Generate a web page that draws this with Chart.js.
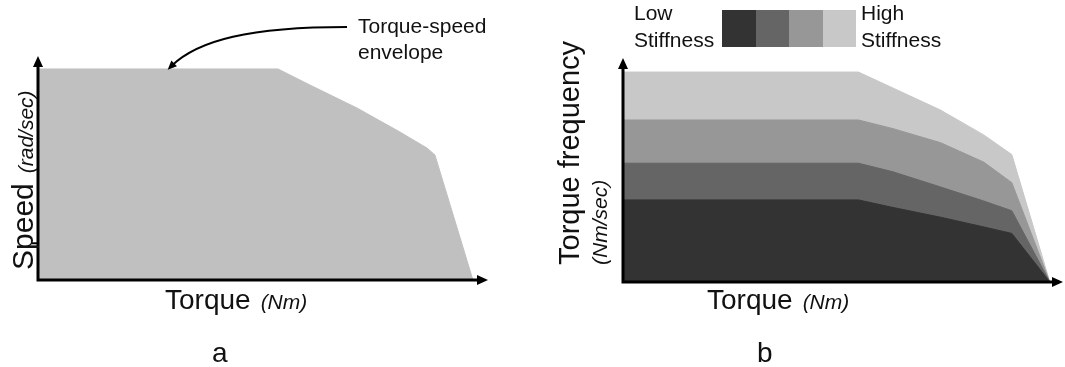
<!DOCTYPE html>
<html>
<head>
<meta charset="utf-8">
<script src="https://cdn.jsdelivr.net/npm/chart.js@4.4.1/dist/chart.umd.min.js"></script>
<style>
    body {
        margin: 0;
        background: #fff;
        width: 1065px;
        height: 367px;
        overflow: hidden;
        position: relative;
        font-family: Arial, "Liberation Sans", sans-serif;
        color: #111;
    }
    canvas { position: absolute; top: 0; }
    #chartA { left: 0; }
    #chartB { left: 540px; }
    .lbl { position: absolute; white-space: nowrap; line-height: 1; }
    .it { font-style: italic; font-size: 21px; }
    .rot { transform-origin: left top; transform: rotate(-90deg); }
    #stiffBar { position: absolute; left: 722px; top: 10px; width: 134px; height: 37px; display: flex; }
    #stiffBar div { flex: 1; }
</style>
</head>
<body>

<canvas id="chartA" width="500" height="300"></canvas>
<canvas id="chartB" width="525" height="300"></canvas>

<!-- panel a labels -->
<div class="lbl" style="left:358px; top:13px; font-size:21px; line-height:26px;">Torque-speed<br>envelope</div>
<div class="lbl rot" style="left:8px; top:270px; font-size:30px;">Speed<span class="it" style="margin-left:10px;">(rad/sec)</span></div>
<div class="lbl" style="left:165px; top:286px; font-size:28px;">Torque<span class="it" style="margin-left:10px;">(Nm)</span></div>
<div class="lbl" style="left:212px; top:339px; font-size:28px;">a</div>

<!-- panel b labels -->
<div class="lbl" style="left:634px; top:-1px; font-size:21px; line-height:27px;">Low<br>Stiffness</div>
<div id="stiffBar"></div>
<div class="lbl" style="left:861px; top:-1px; font-size:21px; line-height:27px;">High<br>Stiffness</div>
<div class="lbl rot" style="left:555px; top:265px; font-size:29px;">Torque frequency</div>
<div class="lbl rot it" style="left:589px; top:265px;">(Nm/sec)</div>
<div class="lbl" style="left:707px; top:286px; font-size:28px;">Torque<span class="it" style="margin-left:10px;">(Nm)</span></div>
<div class="lbl" style="left:757px; top:339px; font-size:28px;">b</div>

<script>
// panel a: torque-speed envelope
var torqueA = [0, 54.3, 61.5, 72.2, 81.9, 88, 89.8, 98.4];
var speedA = [97.7, 97.7, 90.3, 79.6, 68.5, 61.1, 57.9, 0];
var envelopeColor = '#c0c0c0';

// panel b: torque frequency per stiffness level, low to high
var torqueB = [0, 54.5, 62.5, 73.5, 83.5, 90, 98.8];
var stiffLevels = ['Low', 'Medium-low', 'Medium-high', 'High'];
var freqLow = [38, 38, 34.5, 30, 25.5, 22.5, 0];
var freqMedLow = [55, 55, 51, 44, 37.5, 33, 0];
var freqMedHigh = [75, 75, 71, 64.5, 55.5, 46, 0];
var freqHigh = [97.2, 97.2, 89.8, 79.6, 68.1, 59, 0];
var stiffColors = ['#333333', '#656565', '#979797', '#c8c8c8'];

function toPoints(xs, ys) {
    var pts = [];
    for (var i = 0; i < xs.length; i++) {
        pts.push({x: xs[i], y: ys[i]});
    }
    return pts;
}

function areaDataset(label, xs, ys, color) {
    return {
        label: label,
        data: toPoints(xs, ys),
        fill: 'origin',
        backgroundColor: color,
        borderColor: color,
        borderWidth: 1,
        pointRadius: 0,
        tension: 0
    };
}

// axis lines with arrow heads, drawn over the filled areas
var axisArrows = {
    id: 'axisArrows',
    afterDatasetsDraw: function (chart) {
        var ctx = chart.ctx;
        var area = chart.chartArea;
        var x0 = chart.scales.x.getPixelForValue(0);
        var y0 = chart.scales.y.getPixelForValue(0);
        var xTip = area.right + 8;
        var yTip = area.top - 8;

        ctx.save();
        ctx.strokeStyle = '#000';
        ctx.fillStyle = '#000';
        ctx.lineWidth = 3;
        ctx.beginPath();
        ctx.moveTo(x0, yTip + 6);
        ctx.lineTo(x0, y0);
        ctx.lineTo(xTip - 6, y0);
        ctx.stroke();

        ctx.beginPath();
        ctx.moveTo(x0, yTip);
        ctx.lineTo(x0 - 5, yTip + 11);
        ctx.lineTo(x0 + 5, yTip + 11);
        ctx.closePath();
        ctx.fill();

        ctx.beginPath();
        ctx.moveTo(xTip, y0);
        ctx.lineTo(xTip - 11, y0 - 5);
        ctx.lineTo(xTip - 11, y0 + 5);
        ctx.closePath();
        ctx.fill();

        var tick = chart.options.plugins.axisArrows.yTick;
        if (tick != null) {
            var ty = chart.scales.y.getPixelForValue(tick);
            ctx.lineWidth = 2;
            ctx.beginPath();
            ctx.moveTo(x0 - 6, ty);
            ctx.lineTo(x0, ty);
            ctx.stroke();
        }
        ctx.restore();
    }
};

// curved pointer from the caption down to the top of the envelope
var envelopePointer = {
    id: 'envelopePointer',
    afterDraw: function (chart) {
        var opts = chart.options.plugins.envelopePointer;
        if (!opts) return;
        var ctx = chart.ctx;
        var tx = chart.scales.x.getPixelForValue(opts.x);
        var ty = chart.scales.y.getPixelForValue(opts.y);
        var sx = opts.startX, sy = opts.startY;
        var c2x = tx + 30, c2y = ty - 29;

        ctx.save();
        ctx.strokeStyle = '#000';
        ctx.fillStyle = '#000';
        ctx.lineWidth = 2;
        ctx.beginPath();
        ctx.moveTo(sx, sy);
        ctx.bezierCurveTo(sx - 97, sy, c2x, c2y, tx + 3, ty - 3);
        ctx.stroke();

        var ang = Math.atan2(ty - c2y, tx - c2x);
        ctx.translate(tx, ty);
        ctx.rotate(ang);
        ctx.beginPath();
        ctx.moveTo(1, 0);
        ctx.lineTo(-8, -4);
        ctx.lineTo(-8, 4);
        ctx.closePath();
        ctx.fill();
        ctx.restore();
    }
};

function baseOptions(padding) {
    return {
        responsive: false,
        animation: false,
        devicePixelRatio: 1,
        layout: {padding: padding},
        plugins: {
            legend: {display: false},
            tooltip: {enabled: false}
        },
        scales: {
            x: {type: 'linear', min: 0, max: 100, display: false},
            y: {type: 'linear', min: 0, max: 100, display: false}
        }
    };
}

var optsA = baseOptions({left: 38, top: 64, right: 20, bottom: 20});
optsA.plugins.axisArrows = {yTick: 17};
optsA.plugins.envelopePointer = {x: 29.5, y: speedA[0], startX: 347, startY: 27};

var chartA = new Chart(document.getElementById('chartA'), {
    type: 'line',
    data: {
        datasets: [areaDataset('Torque-speed envelope', torqueA, speedA, envelopeColor)]
    },
    options: optsA,
    plugins: [axisArrows, envelopePointer]
});

var optsB = baseOptions({left: 83, top: 66, right: 10, bottom: 18});
optsB.plugins.axisArrows = {yTick: null};

// first dataset is drawn on top, so the low stiffness band goes first
var freqSeries = [freqLow, freqMedLow, freqMedHigh, freqHigh];
var datasetsB = [];
for (var i = 0; i < freqSeries.length; i++) {
    datasetsB.push(areaDataset(stiffLevels[i], torqueB, freqSeries[i], stiffColors[i]));
}

var chartB = new Chart(document.getElementById('chartB'), {
    type: 'line',
    data: {datasets: datasetsB},
    options: optsB,
    plugins: [axisArrows]
});

// stiffness scale swatches
var bar = document.getElementById('stiffBar');
stiffColors.forEach(function (c) {
    var sw = document.createElement('div');
    sw.style.background = c;
    bar.appendChild(sw);
});
</script>
</body>
</html>
